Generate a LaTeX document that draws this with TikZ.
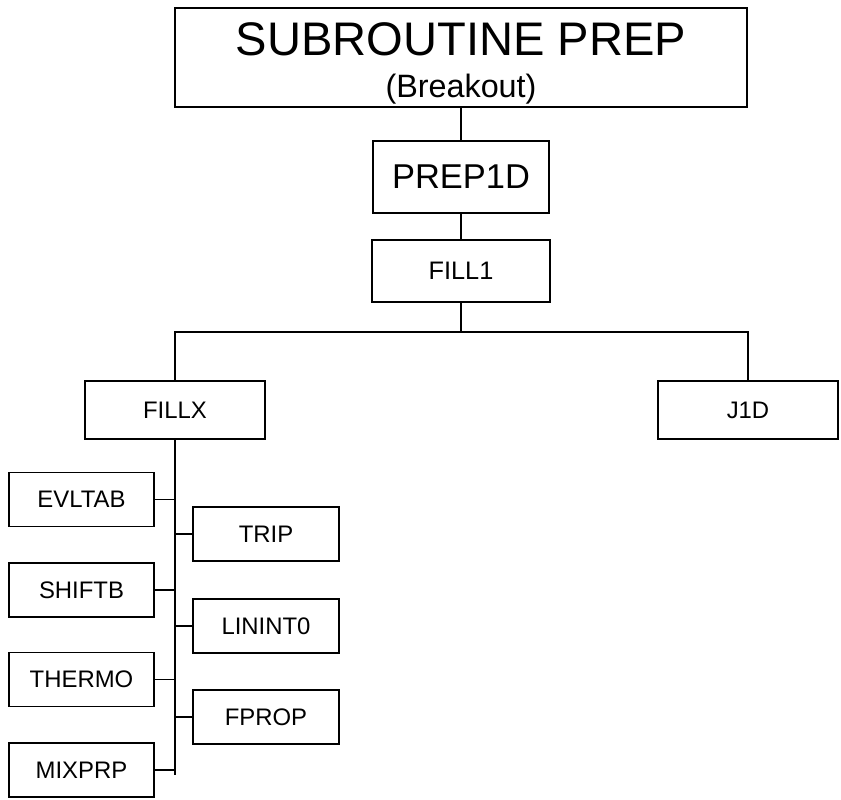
\documentclass[tikz,border=0pt]{standalone}
\usepackage{fontspec}
\setmainfont{Liberation Sans}
\usepackage{tikz}
\usetikzlibrary{positioning,calc}

\tikzset{
    box/.style={draw,line width=1.3pt,inner sep=0pt,outer sep=0pt,align=center},
    wire/.style={line width=1.3pt},
    smallbox/.style={box,minimum width=3.63cm,minimum height=1.35cm,font=\fontsize{17}{20}\selectfont}
}

\begin{document}
\begin{tikzpicture}[x=0.025cm,y=-0.025cm]
    \useasboundingbox (0,0) rectangle (841,800);

    % Top levels
    \node[box,minimum width=14.3cm,minimum height=2.475cm,font=\fontsize{23}{30}\selectfont]
        (prep) at (461,57.5) {{\fontsize{33.5}{38}\selectfont\rule{0pt}{32pt}SUBROUTINE PREP}\\(Breakout)};
    \node[box,minimum width=4.4cm,minimum height=1.8cm,font=\fontsize{24.5}{28}\selectfont]
        (prep1d) at (461,177) {PREP1D};
    \node[box,minimum width=4.43cm,minimum height=1.55cm,font=\fontsize{18}{21}\selectfont]
        (fill1) at (461,271) {FILL1};

    % Second level
    \node[box,minimum width=4.5cm,minimum height=1.45cm,font=\fontsize{17}{20}\selectfont]
        (fillx) at (175,410) {FILLX};
    \node[box,minimum width=4.5cm,minimum height=1.45cm,font=\fontsize{17}{20}\selectfont]
        (j1d) at (748,410) {J1D};
    \coordinate (bus) at (461,332);

    % Called by FILLX, left column
    \node[smallbox] (evltab) at (81.5,499.5) {EVLTAB};
    \node[smallbox] (shiftb) at (81.5,590) {SHIFTB};
    \node[smallbox] (thermo) at (81.5,679.5) {THERMO};
    \node[smallbox] (mixprp) at (81.5,770) {MIXPRP};

    % Called by FILLX, right column
    \node[smallbox] (trip) at (266,534) {TRIP};
    \node[smallbox] (linint) at (266,626) {LININT0};
    \node[smallbox] (fprop) at (266,717) {FPROP};
    \coordinate (spineend) at (175,775);

    % Connectors
    \draw[wire] (prep.south) -- (prep1d.north);
    \draw[wire] (prep1d.south) -- (fill1.north);
    \draw[wire] (fill1.south) -- (bus);
    \draw[wire] (fillx.north) |- (bus) -| (j1d.north);
    \draw[wire] (fillx.south) -- (spineend);
    \foreach \n in {evltab,shiftb,thermo,mixprp}
        \draw[wire] (\n.east) -- (\n.east -| spineend);
    \foreach \n in {trip,linint,fprop}
        \draw[wire] (\n.west) -- (\n.west -| spineend);
\end{tikzpicture}
\end{document}
